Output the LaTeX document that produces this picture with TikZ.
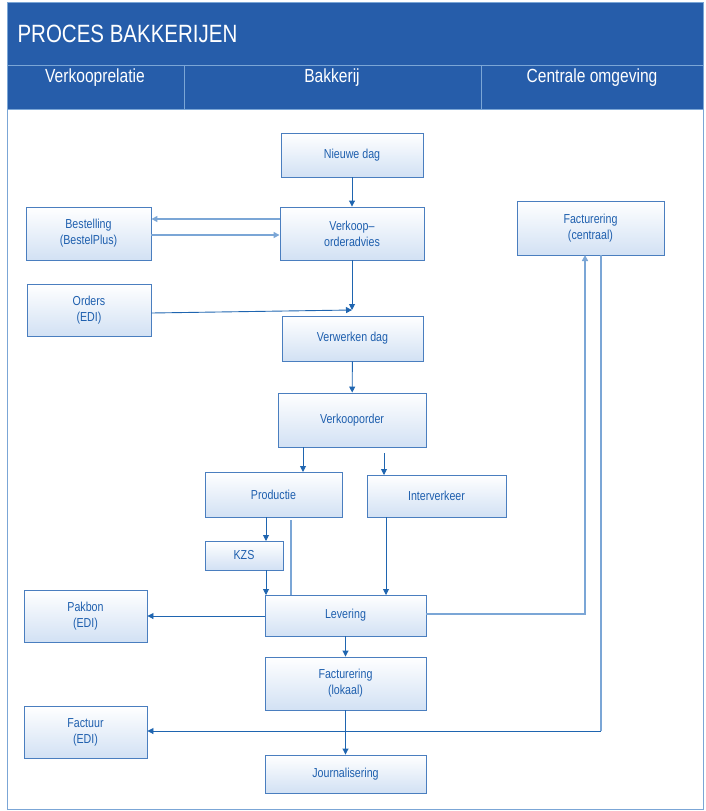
\documentclass[tikz,border=0pt]{standalone}
\usepackage{fontspec}
\setmainfont{Liberation Sans}[FakeStretch=0.82]
\usetikzlibrary{arrows.meta}
\definecolor{hdr}{HTML}{265DAA}
\definecolor{txt}{HTML}{1E5FAE}
\definecolor{bord}{HTML}{4A7EBF}
\definecolor{lite}{HTML}{D2E1F4}
\definecolor{ln}{HTML}{1F65B0}
\definecolor{lnl}{HTML}{7BA6D6}
\tikzset{
 bx/.style={draw=bord,line width=0.9pt,top color=white,bottom color=lite,text=txt,font=\fontsize{13}{16}\selectfont,align=center,inner sep=0pt},
 ar/.style={draw=ln,line width=0.9pt,-{Triangle[length=6pt,width=6pt]}},
 pl/.style={draw=lnl,line width=1.6pt},
 pa/.style={pl,-{Triangle[length=6pt,width=6pt]}}
}
\newcommand{\bxn}[6]{\node[bx,minimum width=#4-#2,minimum height=#5-#3] (#1) at ({(#2+#4)/2},{(#3+#5)/2}) {#6};}
\begin{document}
\begin{tikzpicture}[x=1pt,y=-1pt]
\useasboundingbox (0,0) rectangle (705,811);
\fill[hdr] (7,2) rectangle (703,109);
\draw[lnl,line width=1pt] (7,2) rectangle (703,809);
\draw[lnl,line width=1pt] (7,65) -- (703,65) (184,65) -- (184,109) (481,65) -- (481,109) (7,109) -- (703,109);
\node[anchor=west,text=white,font=\fontsize{25}{28}\selectfont] (title) at (14,34) {PROCES BAKKERIJEN};
\node[text=white,font=\fontsize{19}{22}\selectfont] (c1) at (95,78) {Verkooprelatie};
\node[text=white,font=\fontsize{19}{22}\selectfont] (c2) at (332,78) {Bakkerij};
\node[text=white,font=\fontsize{19}{22}\selectfont] (c3) at (592,78) {Centrale omgeving};
\bxn{nd}{281}{133}{423}{177}{Nieuwe dag}
\bxn{vo}{280}{207}{424}{260}{Verkoop–\\orderadvies}
\bxn{be}{26}{207}{151}{260}{Bestelling\\(BestelPlus)}
\bxn{fc}{517}{201}{664}{255}{Facturering\\(centraal)}
\bxn{or}{27}{284}{151}{336}{Orders\\(EDI)}
\bxn{vd}{282}{316}{423}{361}{Verwerken dag}
\bxn{vk}{278}{393}{426}{447}{Verkooporder}
\bxn{pr}{205}{472}{342}{517}{Productie}
\bxn{iv}{367}{475}{506}{517}{Interverkeer}
\bxn{kz}{205}{541}{283}{570}{KZS}
\bxn{le}{265}{595}{426}{636}{Levering}
\bxn{pb}{24}{590}{147}{642}{Pakbon\\(EDI)}
\bxn{fl}{265}{657}{426}{710}{Facturering\\(lokaal)}
\bxn{fe}{24}{706}{147}{758}{Factuur\\(EDI)}
\bxn{jo}{265}{755}{426}{793}{Journalisering}
\coordinate (j) at (352,310);
\draw[ar] (nd) -- (vo);
\draw[pa] (vo.west|-0,219) -- (be.east|-0,219);
\draw[pa] (be.east|-0,235) -- (vo.west|-0,235);
\draw[ar] (vo) -- (j);
\draw[ar] (or.east|-0,313) -- (j);
\draw[ar] (vd) -- (vk);
\draw[ar] (303,447) -- (303,472);
\draw[ar] (384,453) -- (384,475);
\draw[ar] (266,517) -- (266,541);
\draw[ar] (266,570) -- (266,595);
\draw[pl] (291,520) -- (291,595);
\draw[ar] (386,517) -- (386,595);
\draw[ar] (le.west|-0,616) -- (pb.east|-0,616);
\draw[pa] (le.east|-0,614) -- (585,614) -- (585,255);
\draw[pl] (601,255) -- (601,731);
\draw[ar] (601,731) -- (fe.east|-0,731);
\draw[ar] (le) -- (fl);
\draw[ar] (fl) -- (jo);
\end{tikzpicture}
\end{document}
